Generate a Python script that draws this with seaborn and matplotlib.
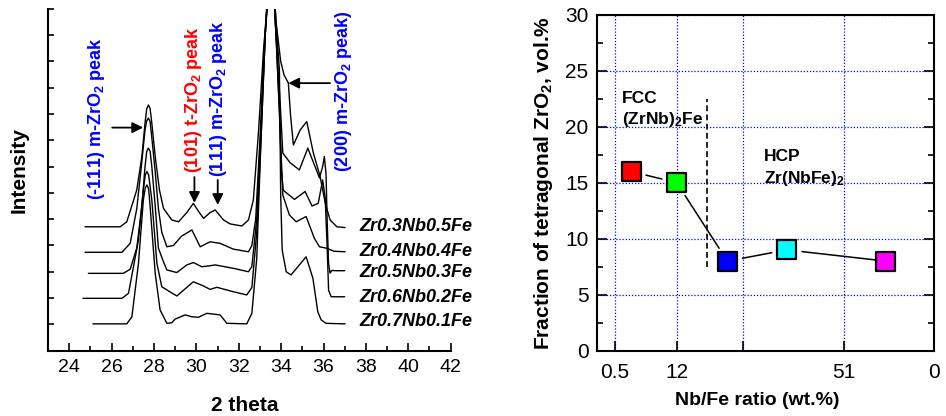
import matplotlib
matplotlib.use("Agg")
import matplotlib.pyplot as plt
import pandas as pd
import seaborn as sns
from matplotlib.ticker import MultipleLocator

# ---------------- XRD patterns (2-theta in degrees, stacked intensity, arb. units) ----------------
compositions = ["Zr0.3Nb0.5Fe", "Zr0.4Nb0.4Fe", "Zr0.5Nb0.3Fe", "Zr0.6Nb0.2Fe", "Zr0.7Nb0.1Fe"]

tt_zr03 = [24.75, 26.41, 26.72, 27.19, 27.43, 27.58, 27.66, 27.74, 27.82, 27.90, 28.06, 28.26, 28.45,
           28.84, 29.16, 29.55, 29.86, 30.10, 30.34, 30.65, 30.89, 31.28, 31.59, 32.15, 32.46, 32.69,
           32.93, 33.17, 33.33, 33.53, 33.76, 33.98, 34.14, 34.34, 34.45, 34.58, 34.90, 35.21, 35.52,
           35.84, 36.08, 36.31, 36.63, 37.02]
int_zr03 = [4.71, 4.71, 4.90, 6.11, 7.38, 8.65, 9.20, 9.34, 9.20, 8.65, 7.38, 6.11, 5.41,
            4.97, 4.90, 5.25, 5.60, 5.30, 5.03, 5.25, 5.35, 4.97, 4.82, 4.74, 4.97, 5.73,
            8.28, 11.43, 12.95, 15.50, 12.50, 11.00, 10.48, 10.18, 8.90, 7.82, 8.39, 8.71, 7.52,
            6.62, 5.62, 4.97, 4.71, 4.68]

tt_zr04 = [24.75, 26.49, 26.88, 27.19, 27.43, 27.58, 27.66, 27.74, 27.82, 27.90, 28.06, 28.21, 28.37,
           28.61, 28.92, 29.30, 29.79, 30.18, 30.65, 31.12, 31.75, 32.46, 32.62, 32.80, 33.00, 33.20,
           33.35, 33.53, 33.76, 33.92, 34.00, 34.08, 34.39, 34.71, 35.18, 35.57, 35.81, 36.12, 36.50,
           37.02]
int_zr04 = [3.74, 3.74, 4.08, 5.40, 7.20, 8.40, 8.74, 8.84, 8.70, 8.10, 6.80, 5.40, 4.50,
            3.95, 4.00, 4.35, 4.59, 3.95, 4.14, 4.08, 3.86, 3.76, 4.00, 5.00, 8.00, 11.50,
            13.50, 15.50, 12.00, 9.00, 7.50, 5.92, 5.16, 4.90, 5.10, 4.27, 3.95, 3.90, 3.78,
            3.76]

tt_zr05 = [24.91, 26.56, 26.88, 27.19, 27.43, 27.58, 27.66, 27.74, 27.82, 27.90, 28.06, 28.21, 28.45,
           28.61, 29.08, 29.55, 29.86, 30.26, 30.65, 30.89, 31.75, 32.46, 32.62, 32.85, 33.05, 33.25,
           33.53, 33.76, 33.95, 34.08, 34.42, 34.86, 35.26, 35.57, 35.81, 35.96, 36.04, 36.12, 36.17,
           36.24, 36.31, 36.39, 36.60, 37.00]
int_zr05 = [2.94, 2.94, 3.10, 3.90, 5.50, 7.00, 7.58, 7.70, 7.58, 7.00, 5.50, 3.90, 3.38,
            3.07, 2.97, 3.26, 3.35, 3.19, 3.23, 3.26, 3.13, 3.00, 3.20, 5.00, 8.50, 12.00,
            15.50, 12.00, 9.50, 7.51, 7.15, 6.87, 7.70, 7.06, 6.57, 7.00, 7.38, 6.70, 5.00,
            3.30, 2.95, 3.05, 3.04, 3.04]

tt_zr06 = [24.65, 26.49, 26.80, 27.27, 27.50, 27.59, 27.67, 27.75, 27.90, 28.14, 28.37, 28.61, 29.08,
           29.86, 30.34, 30.65, 30.97, 31.75, 32.38, 32.62, 32.85, 33.05, 33.25, 33.53, 33.76, 33.93,
           34.00, 34.10, 34.63, 35.13, 35.46, 35.75, 35.96, 36.08, 36.17, 36.24, 36.36, 37.00]
int_zr06 = [1.99, 1.99, 2.18, 4.21, 6.11, 6.68, 6.81, 6.68, 5.73, 3.32, 2.43, 2.31, 2.08,
            2.62, 2.46, 2.33, 2.41, 2.24, 2.12, 2.40, 4.50, 8.00, 12.00, 15.50, 12.00, 9.00,
            7.00, 6.10, 5.75, 6.05, 5.50, 5.60, 6.49, 5.80, 4.00, 2.30, 2.05, 2.05]

tt_zr07 = [25.12, 26.72, 26.96, 27.27, 27.50, 27.59, 27.67, 27.75, 27.82, 28.06, 28.29, 28.61, 28.84,
           29.00, 29.47, 29.79, 30.10, 30.50, 31.12, 31.44, 32.38, 32.62, 32.85, 33.05, 33.25, 33.53,
           33.76, 33.92, 33.98, 34.05, 34.24, 34.47, 34.80, 35.18, 35.50, 35.73, 35.89, 36.12, 37.02]
int_zr07 = [1.02, 1.02, 1.29, 3.32, 5.73, 6.18, 6.30, 6.15, 5.48, 2.94, 1.55, 1.04, 1.06,
            1.20, 1.36, 1.29, 1.27, 1.42, 1.36, 1.04, 1.02, 1.42, 3.50, 8.00, 12.00, 15.50,
            12.50, 10.67, 5.92, 3.83, 3.00, 2.88, 3.20, 3.57, 2.75, 1.48, 1.17, 1.04, 1.02]

two_theta_sets = [tt_zr03, tt_zr04, tt_zr05, tt_zr06, tt_zr07]
intensity_sets = [int_zr03, int_zr04, int_zr05, int_zr06, int_zr07]

# height of each pattern's label on the stacked intensity scale
label_levels = [4.71, 3.76, 2.97, 2.02, 1.10]

# ---------------- tetragonal ZrO2 fraction vs Nb/Fe ratio ----------------
ratio_position = [10.2, 23.7, 38.7, 56.3, 85.6]
tetragonal_fraction = [16, 15, 8, 9, 8]
point_colors = ["#ff0000", "#00ff00", "#0000ff", "#00ffff", "#ff00ff"]
ratio_tick_pos = [5.4, 23.7, 43.4, 73.3, 100]
ratio_tick_labels = ["0.5", "12", "", "51", "0"]
phase_boundary_pos = 32.6
phase_boundary_span = (7.5, 22.5)

# ---------------- styling ----------------
sns.set_theme(style="white")
plt.rcParams["font.family"] = ["Liberation Sans", "DejaVu Sans"]
plt.rcParams.update({
    "mathtext.fontset": "custom",
    "mathtext.rm": "Liberation Sans:bold",
    "mathtext.it": "Liberation Sans:bold:italic",
    "mathtext.bf": "Liberation Sans:bold",
    "mathtext.default": "rm",
    "axes.edgecolor": "black",
    "axes.linewidth": 1.5,
    "xtick.color": "black",
    "ytick.color": "black",
    "text.color": "black",
    "axes.labelcolor": "black",
})

fig = plt.figure(figsize=(9.46, 4.16), dpi=100)
ax1 = fig.add_axes([0.0507, 0.157, 0.4257, 0.8221])
ax2 = fig.add_axes([0.6308, 0.157, 0.3569, 0.8077])

# ---------------- left: stacked XRD patterns ----------------
xrd = pd.concat(
    [pd.DataFrame({"two_theta": t, "intensity": i, "sample": s})
     for s, t, i in zip(compositions, two_theta_sets, intensity_sets)],
    ignore_index=True,
)
sns.lineplot(data=xrd, x="two_theta", y="intensity", hue="sample",
             palette=["black"] * len(compositions), sort=False, estimator=None,
             legend=False, linewidth=1.0, ax=ax1)

ax1.set_xlim(23, 42)
ax1.set_ylim(0, 13)
ax1.xaxis.set_major_locator(MultipleLocator(2))
ax1.xaxis.set_minor_locator(MultipleLocator(1))
ax1.yaxis.set_major_locator(MultipleLocator(1))
ax1.tick_params(axis="x", which="major", direction="in", length=6, width=1.2,
                labelsize=14, pad=6, bottom=True)
ax1.tick_params(axis="x", which="minor", direction="in", length=3.5, width=1.2, bottom=True)
ax1.tick_params(axis="y", which="major", direction="in", length=4.5, width=1.2,
                left=True, labelleft=False)
for side in ("top", "right"):
    ax1.spines[side].set_visible(False)

ax1.set_xlabel("2 theta", fontsize=15, fontweight="bold")
ax1.xaxis.set_label_coords(0.489, -0.132)
ax1.set_ylabel("Intensity", fontsize=15, fontweight="bold")
ax1.yaxis.set_label_coords(-0.049, 0.528)

for name, level in zip(compositions, label_levels):
    ax1.text(37.7, level, name, fontsize=13, fontweight="bold", fontstyle="italic",
             ha="left", va="center")

peak_labels = [
    ("(-111) m-ZrO$_2$ peak", "#0000ff", 25.31, 5.73),
    ("(101) t-ZrO$_2$ peak", "#ff0000", 29.86, 6.75),
    ("(111) m-ZrO$_2$ peak", "#0000ff", 31.04, 6.60),
    ("(200) m-ZrO$_2$ peak)", "#0000ff", 36.94, 6.80),
]
for text, color, x, y in peak_labels:
    ax1.text(x, y, text, color=color, fontsize=13, fontweight="bold",
             rotation=90, ha="center", va="bottom")

arrow_style = dict(arrowstyle="-|>", color="black", lw=1.3, mutation_scale=16,
                   shrinkA=0, shrinkB=0)
for tail, tip in [((26.03, 8.48), (27.49, 8.48)),
                  ((29.91, 6.60), (29.91, 5.62)),
                  ((31.01, 6.49), (31.01, 5.54)),
                  ((36.31, 10.17), (34.34, 10.17))]:
    ax1.annotate("", xy=tip, xytext=tail, arrowprops=arrow_style)

# ---------------- right: tetragonal fraction ----------------
ax2.set_axisbelow(True)
ax2.grid(True, which="major", color="#0000ff", linestyle=(0, (1, 1.5)), linewidth=0.9)

shrink_start = [11, 11, 11, 11]
shrink_end = [11, 11, 11, 5]
for k in range(len(ratio_position) - 1):
    ax2.annotate("", xy=(ratio_position[k + 1], tetragonal_fraction[k + 1]),
                 xytext=(ratio_position[k], tetragonal_fraction[k]),
                 arrowprops=dict(arrowstyle="-", color="black", lw=1.1,
                                 shrinkA=shrink_start[k], shrinkB=shrink_end[k]))

sns.scatterplot(x=ratio_position, y=tetragonal_fraction, hue=compositions,
                palette=dict(zip(compositions, point_colors)), marker="s", s=190,
                edgecolor="black", linewidth=1.6, legend=False, zorder=3, ax=ax2)

ax2.vlines(phase_boundary_pos, *phase_boundary_span, colors="black",
           linestyles=(0, (3.5, 2)), linewidth=1.2)

ax2.text(7.4, 22.14, "FCC", fontsize=12.5, fontweight="bold", ha="left", va="baseline")
ax2.text(7.4, 20.25, "(ZrNb)$_2$Fe", fontsize=12.5, fontweight="bold", ha="left", va="baseline")
ax2.text(49.6, 16.94, "HCP", fontsize=12.5, fontweight="bold", ha="left", va="baseline")
ax2.text(49.4, 15.0, "Zr(NbFe)$_2$", fontsize=12.5, fontweight="bold", ha="left", va="baseline")

ax2.set_xlim(0, 100)
ax2.set_ylim(0, 30)
ax2.set_xticks(ratio_tick_pos)
ax2.set_xticklabels(ratio_tick_labels)
ax2.yaxis.set_major_locator(MultipleLocator(5))
ax2.yaxis.set_minor_locator(MultipleLocator(2.5))
ax2.tick_params(axis="x", which="major", direction="in", length=7, width=1.2,
                labelsize=15, pad=9, bottom=True)
ax2.tick_params(axis="y", which="major", direction="in", length=7, width=1.2,
                labelsize=15, pad=6, left=True, right=True)
ax2.tick_params(axis="y", which="minor", direction="in", length=4, width=1.2,
                left=True, right=True)

ax2.set_xlabel("Nb/Fe ratio (wt.%)", fontsize=14, fontweight="bold")
ax2.xaxis.set_label_coords(0.476, -0.122)
ax2.set_ylabel("Fraction of tetragonal ZrO$_2$, vol.%", fontsize=15, fontweight="bold")
ax2.yaxis.set_label_coords(-0.1235, 0.50)

fig.savefig("out.png", dpi=100)
